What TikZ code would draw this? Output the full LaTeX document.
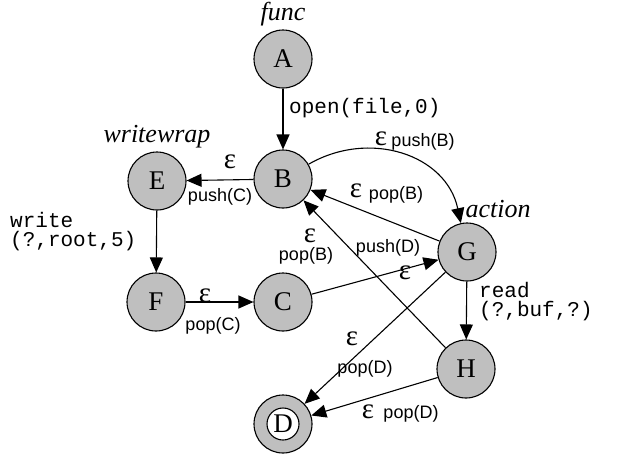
\documentclass[tikz,border=0pt]{standalone}
\usepackage{fontspec}
\setmainfont{Liberation Serif}
\setsansfont{Liberation Sans}
\setmonofont{Liberation Mono}
\usetikzlibrary{arrows.meta}
\tikzset{
  st/.style={circle, draw, line width=1.1pt, fill=black!25, minimum size=58pt, inner sep=0pt, font=\fontsize{27}{27}\selectfont},
  inner/.style={circle, draw, line width=1.1pt, fill=white, minimum size=32pt, inner sep=0pt, font=\fontsize{27}{27}\selectfont},
  tr/.style={line width=1.1pt, -{Triangle[length=15pt,width=13pt]}},
  ttl/.style={font=\fontsize{26}{26}\selectfont\itshape, inner sep=0pt},
  eps/.style={font=\fontsize{29}{29}\selectfont, inner sep=0pt},
  lab/.style={font=\fontsize{18}{18}\sffamily\selectfont, inner sep=0pt},
  code/.style={font=\fontsize{21}{19}\ttfamily\selectfont, inner sep=0pt, align=left}
}
\begin{document}
\begin{tikzpicture}[x=1pt,y=-1pt]
\useasboundingbox (0,0) rectangle (618,456);
\node[st] (A) at (283,59) {A};
\node[st] (B) at (283,179) {B};
\node[st] (E) at (157,181) {E};
\node[st] (F) at (156,302) {F};
\node[st] (C) at (283,302) {C};
\node[st] (G) at (467,252) {G};
\node[st] (H) at (466,369) {H};
\node[st] (D) at (283,424) {};
\node[inner] (Di) at (D) {D};

\node[ttl] (tA) at (283,14) {func};
\node[ttl] (tE) at (157,137) {writewrap};
\node[ttl] (tG) at (498,209) {action};

\draw[tr] (A) -- (B);
\draw[tr] (B) -- (E);
\draw[tr] (E) -- (F);
\draw[tr] (F) -- (C);
\draw[tr] (C) -- (G);
\draw[tr] (B) to[out=30, in=102, looseness=1.1] (G);
\draw[tr] (G) -- (B);
\draw[tr] (H) -- (B);
\draw[tr] (G) -- (H);
\draw[tr] (G) -- (D);
\draw[tr] (H) -- (D);

\node[code, anchor=west] (lAB) at (289,108) {open(file,0)};
\node[eps] (eBE) at (230,162) {ε};
\node[lab] (lBE) at (220,197) {push(C)};
\node[code, anchor=west] (lEF) at (10,232) {write\\(?,root,5)};
\node[eps] (eFC) at (205,296) {ε};
\node[lab] (lFC) at (213,326) {pop(C)};
\node[eps] (eBG) at (381,139) {ε};
\node[lab] (lBG) at (423,142) {push(B)};
\node[eps] (eGB) at (356,191) {ε};
\node[lab] (lGB) at (396,195) {pop(B)};
\node[eps] (eHB) at (310,236) {ε};
\node[lab] (lHB) at (306,256) {pop(B)};
\node[lab] (lCG) at (388,248) {push(D)};
\node[eps] (eCG) at (405,273) {ε};
\node[code, anchor=west] (lGH) at (479,302) {read\\(?,buf,?)};
\node[eps] (eGD) at (352,339) {ε};
\node[lab] (lGD) at (365,369) {pop(D)};
\node[eps] (eHD) at (368,412) {ε};
\node[lab] (lHD) at (411,414) {pop(D)};
\end{tikzpicture}
\end{document}
